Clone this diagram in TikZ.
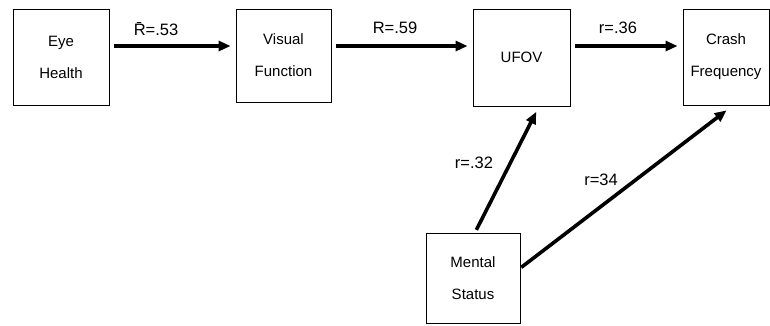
\documentclass[tikz,border=0pt]{standalone}
\usepackage{fontspec}
\setmainfont{Liberation Sans}
\usetikzlibrary{arrows.meta}
\begin{document}
\begin{tikzpicture}[x=1pt,y=-1pt,
  box/.style={draw, line width=0.9pt, inner sep=0pt, align=center,
    font=\fontsize{15}{32}\selectfont},
  link/.style={line width=3.6pt, -{Triangle[length=12pt,width=10pt]},
    shorten <=5pt, shorten >=5pt},
  lbl/.style={font=\fontsize{16.5}{18}\selectfont, inner sep=0pt}]
\useasboundingbox (0,0) rectangle (770,325);
\node[box, minimum width=96pt, minimum height=96pt] (eye) at (61,57) {Eye\\Health};
\node[box, minimum width=95pt, minimum height=93pt] (vis) at (283.5,55.5) {Visual\\Function};
\node[box, minimum width=97pt, minimum height=97pt] (ufov) at (521.5,57.5) {UFOV};
\node[box, minimum width=86pt, minimum height=96pt] (crash) at (726,57) {Crash\\Frequency};
\node[box, minimum width=94pt, minimum height=90pt] (ms) at (473,278) {Mental\\Status};
\draw[link] ([yshift=11pt]eye.east) -- ([yshift=9.5pt]vis.west);
\draw[link] ([yshift=9.5pt]vis.east) -- ([yshift=11.5pt]ufov.west);
\draw[link] ([yshift=11.5pt]ufov.east) -- ([yshift=11pt]crash.west);
\draw[link, shorten <=3pt, shorten >=6pt] ([xshift=2pt]ms.north) -- ([xshift=17.5pt]ufov.south);
\draw[link, shorten <=1pt, shorten >=8pt] ([yshift=10pt]ms.east) -- ([xshift=7pt]crash.south);
\node[lbl] (l1) at (156,29) {\=R=.53};
\node[lbl] (l2) at (395,28) {R=.59};
\node[lbl] (l3) at (618,28) {r=.36};
\node[lbl] (l4) at (474,163) {r=.32};
\node[lbl] (l5) at (601,180) {r=34};
\end{tikzpicture}
\end{document}
